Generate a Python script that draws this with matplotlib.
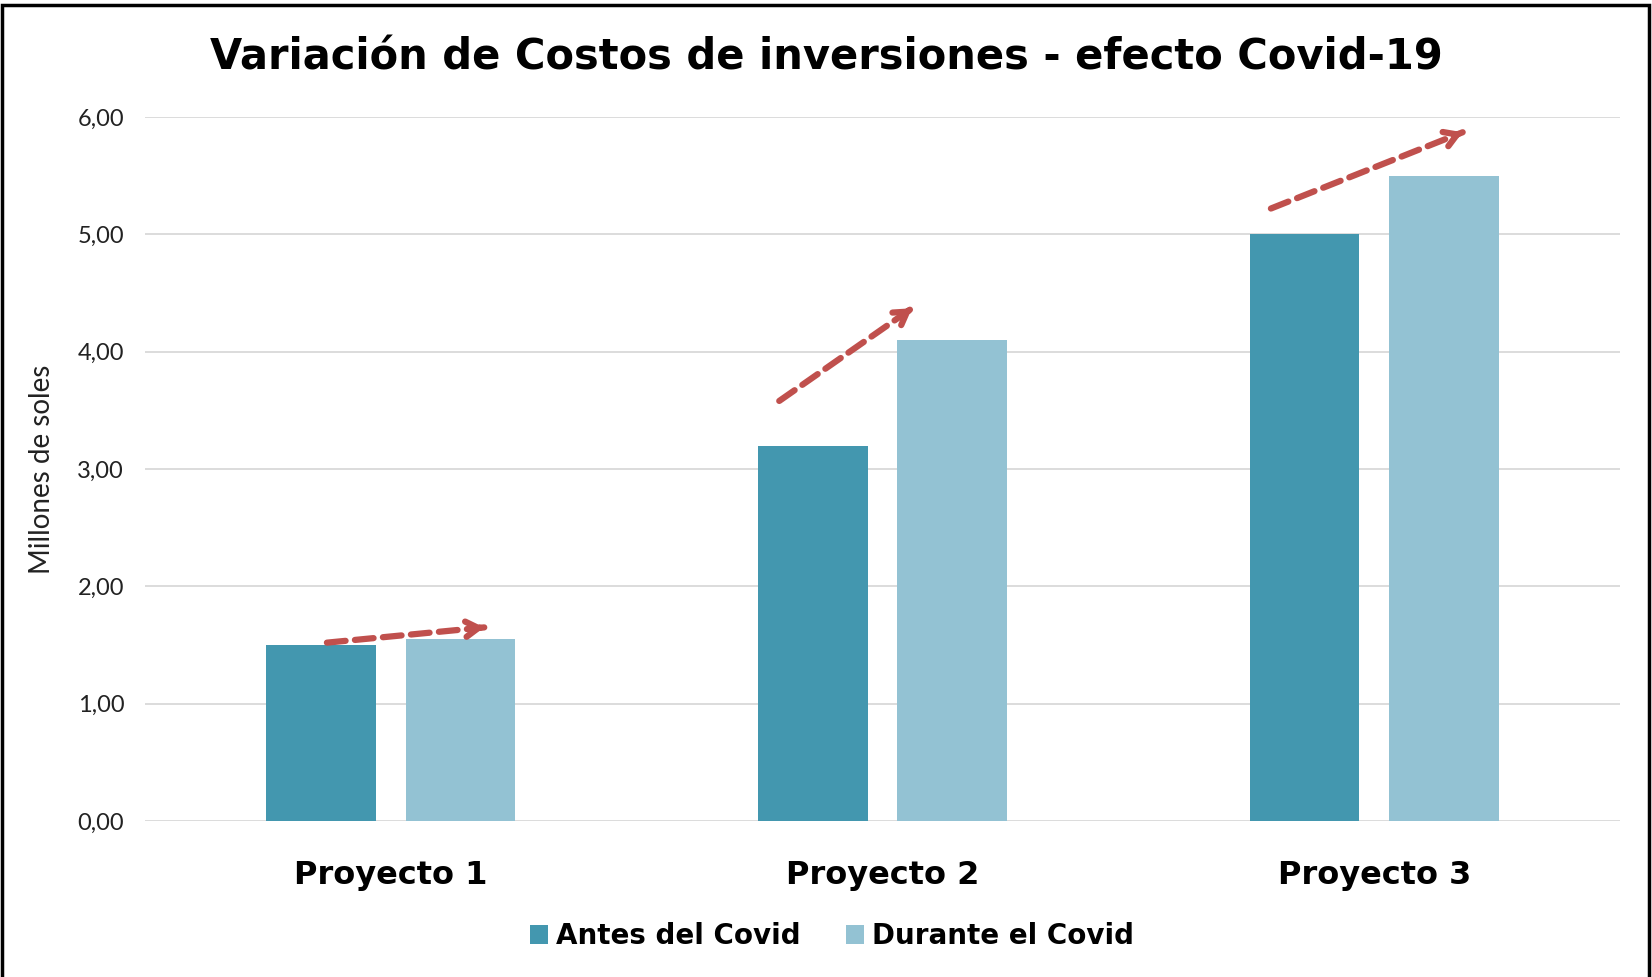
import matplotlib
matplotlib.use("Agg")
import matplotlib.pyplot as plt
from matplotlib.patches import Rectangle
import numpy as np

categories = ["Proyecto 1", "Proyecto 2", "Proyecto 3"]
antes = [1.50, 3.20, 5.00]
durante = [1.55, 4.10, 5.50]
series_names = ["Antes del Covid", "Durante el Covid"]
yticks = [0, 1, 2, 3, 4, 5, 6]
ytick_labels = ["0,00", "1,00", "2,00", "3,00", "4,00", "5,00", "6,00"]
# annotation arrows (start x, start y, end x, end y) in data coords
arrows = [(-0.13, 1.52, 0.19, 1.65),
          (0.79, 3.58, 1.06, 4.37),
          (1.79, 5.22, 2.18, 5.87)]

W, H = 1652, 977
fig = plt.figure(figsize=(W/100, H/100), dpi=100)
ax = fig.add_axes([145/W, 1-821/H, (1620-145)/W, (821-117)/H])

dark = "#4397AF"
light = "#93C2D3"
x = np.arange(len(categories))
bw = 0.223
off = 0.1414
ax.bar(x - off, antes, bw, color=dark, label=series_names[0], zorder=2)
ax.bar(x + off, durante, bw, color=light, label=series_names[1], zorder=2)

ax.set_xlim(-0.5, 2.5)
ax.set_ylim(0, 6)
ax.set_yticks(yticks)
ax.set_yticklabels(ytick_labels, fontsize=17, family="Lato", color="#222222")
ax.yaxis.grid(True, color="#D9D9D9", linewidth=1.3, zorder=0)
ax.set_axisbelow(True)
for s in ax.spines.values():
    s.set_visible(False)
ax.tick_params(axis="y", length=0, pad=15)
ax.tick_params(axis="x", length=0, pad=28)
ax.set_xticks(x)
ax.set_xticklabels(categories, fontsize=23, fontweight="bold", family="DejaVu Sans")
ax.set_ylabel("Millones de soles", fontsize=20, family="Lato", color="#222222", labelpad=16)

for (x0, y0, x1, y1) in arrows:
    ax.annotate("", xy=(x1, y1), xytext=(x0, y0),
                arrowprops=dict(arrowstyle="-", color="#C0504D", lw=4.5,
                                linestyle=(0, (3, 1.5)), shrinkA=0, shrinkB=0), zorder=5)
    dx, dy = x1 - x0, y1 - y0
    ax.annotate("", xy=(x1, y1), xytext=(x1 - 0.03 * dx, y1 - 0.03 * dy),
                arrowprops=dict(arrowstyle="->,head_length=0.9,head_width=0.55",
                                color="#C0504D", lw=4.5, capstyle="round",
                                shrinkA=0, shrinkB=0), zorder=5)

fig.text(0.5, 1-57/H, "Variación de Costos de inversiones - efecto Covid-19",
         ha="center", va="center", fontsize=30, fontweight="bold", family="DejaVu Sans")

leg = fig.legend(loc="center", bbox_to_anchor=(832/W, 1-936/H), ncol=2, frameon=False,
                 prop={"family": "DejaVu Sans", "weight": "bold", "size": 20},
                 handlelength=0.65, handleheight=0.65, handletextpad=0.3, columnspacing=1.6)

fig.patches.append(Rectangle((2/W, -0.05), (1649-2)/W, 1.05-5/H, transform=fig.transFigure,
                             fill=False, edgecolor="black", linewidth=2.5))

fig.savefig("out.png", dpi=100)
